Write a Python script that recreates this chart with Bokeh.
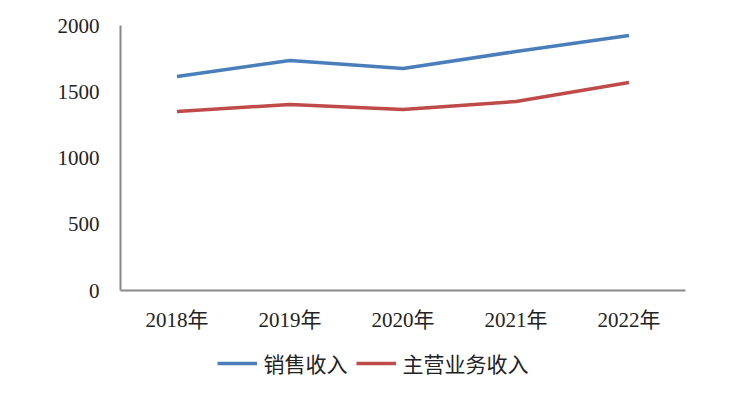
from bokeh.plotting import figure
from bokeh.layouts import column
from bokeh.models import Range1d, FactorRange, Legend, LegendItem, FixedTicker
from bokeh.embed import file_html
from bokeh.resources import INLINE

years = ["2018年", "2019年", "2020年", "2021年", "2022年"]
sales = [1615, 1736, 1675, 1804, 1925]
main_business = [1351, 1404, 1366, 1426, 1570]
y_ticks = [0, 500, 1000, 1500, 2000]
series_names = ["销售收入", "主营业务收入"]
series_colors = ["#4a7ebb", "#be4b48"]

FONT = "Liberation Serif, Noto Sans CJK SC"

p = figure(width=750, height=335, x_range=FactorRange(*years, range_padding=0),
           y_range=Range1d(0, 2000), output_backend="svg", toolbar_location=None,
           min_border_left=120, min_border_right=65, min_border_top=25, min_border_bottom=45)
p.outline_line_color = None
p.xgrid.grid_line_color = None
p.ygrid.grid_line_color = None

p.line(years, sales, line_color=series_colors[0], line_width=3.5)
p.line(years, main_business, line_color=series_colors[1], line_width=3.5)

p.yaxis.ticker = FixedTicker(ticks=y_ticks)
for ax in (p.xaxis[0], p.yaxis[0]):
    ax.axis_line_color = "#888888"
    ax.axis_line_width = 2
    ax.major_tick_line_color = None
    ax.minor_tick_line_color = None
    ax.major_label_text_font = FONT
    ax.major_label_text_font_size = "21px"
    ax.major_label_text_color = "#222222"
p.yaxis.major_label_standoff = 15
p.xaxis.major_label_standoff = 11

# legend strip below the chart
lg = figure(width=690, height=55, output_backend="svg", toolbar_location=None,
            x_axis_type=None, y_axis_type=None, min_border=0,
            x_range=Range1d(0, 1), y_range=Range1d(0, 1))
lg.outline_line_color = None
lg.xgrid.grid_line_color = None
lg.ygrid.grid_line_color = None
items = []
nan = float("nan")
for name, color in zip(series_names, series_colors):
    r = lg.line([nan, nan], [nan, nan], line_color=color, line_width=3.5)
    items.append(LegendItem(label=name, renderers=[r]))
legend = Legend(items=items, orientation="horizontal", location="center",
                label_text_font=FONT, label_text_font_size="21px",
                label_text_color="#222222", glyph_width=40, spacing=8,
                border_line_color=None, background_fill_alpha=0,
                margin=0, padding=4, label_standoff=7)
lg.add_layout(legend, "center")

layout = column(p, lg, spacing=0)
open("out.html", "w").write(file_html(layout, INLINE))
